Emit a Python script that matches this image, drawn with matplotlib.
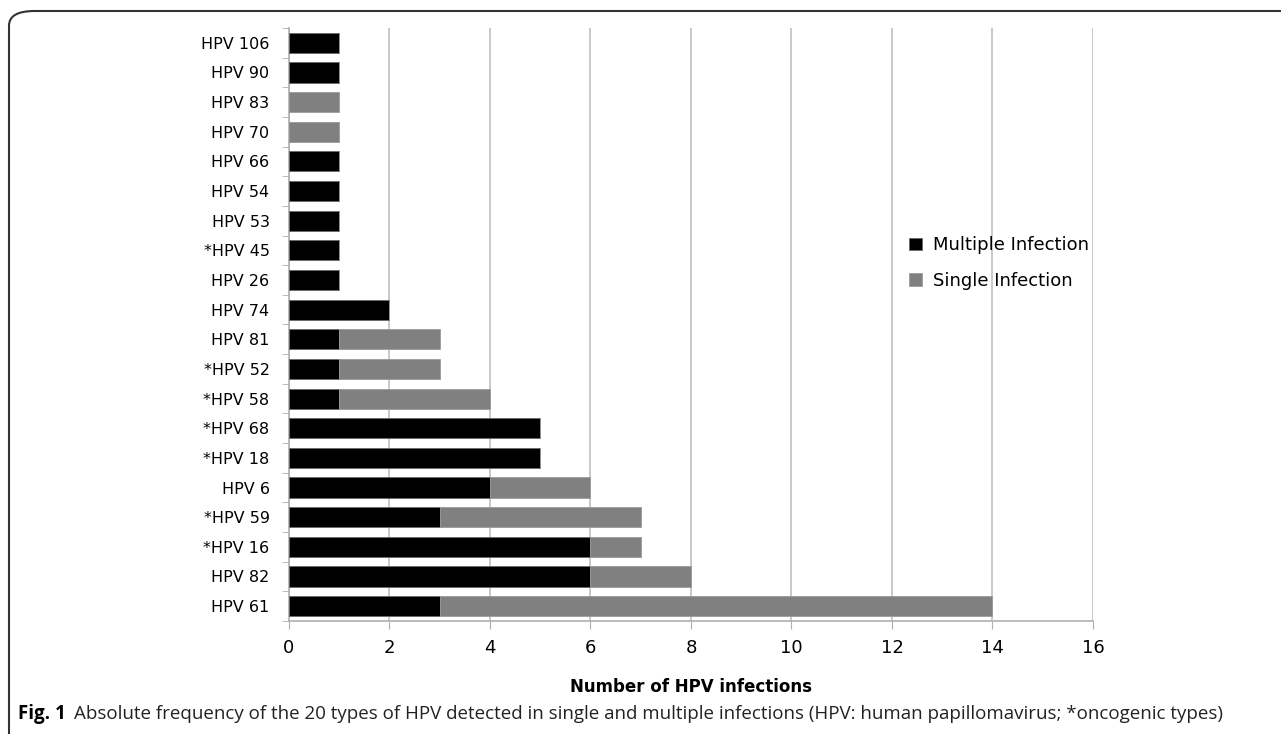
import numpy as np
import matplotlib.pyplot as plt
from matplotlib.patches import FancyBboxPatch

# categories listed bottom to top
hpv_types = [
    "HPV 61", "HPV 82", "*HPV 16", "*HPV 59", "HPV 6", "*HPV 18", "*HPV 68",
    "*HPV 58", "*HPV 52", "HPV 81", "HPV 74", "HPV 26", "*HPV 45", "HPV 53",
    "HPV 54", "HPV 66", "HPV 70", "HPV 83", "HPV 90", "HPV 106",
]
multiple = [3, 6, 6, 3, 4, 5, 5, 1, 1, 1, 2, 1, 1, 1, 1, 1, 0, 0, 1, 1]
single = [11, 2, 1, 4, 2, 0, 0, 3, 2, 2, 0, 0, 0, 0, 0, 0, 1, 1, 0, 0]

x_ticks = [0, 2, 4, 6, 8, 10, 12, 14, 16]

fig = plt.figure(figsize=(12.81, 7.34), dpi=100)
ax = fig.add_axes([0.2256, 0.154, 0.6276, 0.8079])

y = np.arange(len(hpv_types))
ax.barh(y, multiple, height=0.68, color="black", edgecolor="#6a6a6a",
        linewidth=0.6, label="Multiple Infection", zorder=3)
ax.barh(y, single, left=multiple, height=0.68, color="#808080",
        edgecolor="#9a9a9a", linewidth=0.6, label="Single Infection", zorder=3)

ax.set_xlim(0, 16)
ax.set_ylim(-0.5, len(hpv_types) - 0.5)
ax.set_xticks(x_ticks)
ax.set_xticklabels([str(t) for t in x_ticks], fontsize=13)
ax.set_yticks(y)
ax.set_yticklabels(hpv_types, fontsize=11.5)
ax.set_yticks(np.arange(len(hpv_types) + 1) - 0.5, minor=True)
ax.tick_params(axis="y", which="major", length=0, pad=14)
ax.tick_params(axis="y", which="minor", length=5, color="#b0b0b0")
ax.tick_params(axis="x", length=6, color="#b0b0b0", pad=7)

ax.grid(axis="x", color="#c0c0c0", linewidth=1.2, zorder=0)
for side in ["top", "right"]:
    ax.spines[side].set_visible(False)
for side in ["left", "bottom"]:
    ax.spines[side].set_color("#b0b0b0")
    ax.spines[side].set_linewidth(1.2)

ax.set_xlabel("Number of HPV infections", fontsize=12, fontweight="bold",
              labelpad=15)

fig.legend(loc="upper left", bbox_to_anchor=(0.697, 0.7), frameon=False,
           fontsize=13, handlelength=0.7, handleheight=0.7,
           handletextpad=0.6, labelspacing=0.95)

# rounded border around the figure, cropped at right and bottom
border = FancyBboxPatch((9 / 1281, -0.05), 1.2, 1.05 - 11 / 734,
                        boxstyle="round,pad=0,rounding_size=0.02",
                        transform=fig.transFigure, fill=False,
                        edgecolor="#333333", linewidth=1.5)
fig.patches.append(border)

fig.text(0.014, 0.021, "Fig. 1", fontsize=13.5, fontweight="bold",
         family="Open Sans", ha="left", va="baseline")
fig.text(0.0575, 0.021,
         "Absolute frequency of the 20 types of HPV detected in single and "
         "multiple infections (HPV: human papillomavirus; *oncogenic types)",
         fontsize=13.5, family="Open Sans", color="#222222",
         ha="left", va="baseline")

fig.savefig("out.png", dpi=100)
